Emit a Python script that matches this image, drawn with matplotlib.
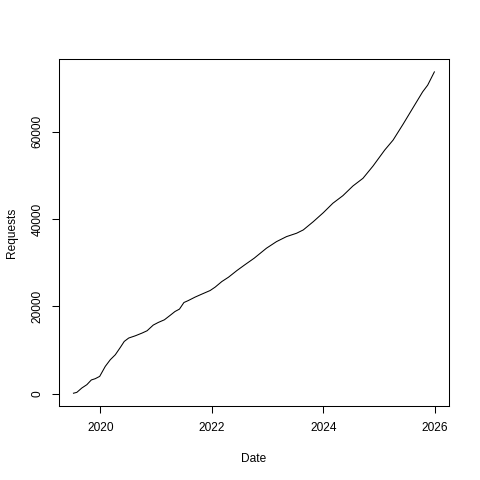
import matplotlib
matplotlib.use("Agg")
import matplotlib.pyplot as plt

# approximate values
dates = [2019.52, 2019.58, 2019.67, 2019.76, 2019.84, 2019.91, 2019.99, 2020.09,
         2020.18, 2020.27, 2020.36, 2020.43, 2020.51, 2020.63, 2020.75, 2020.84,
         2020.95, 2021.04, 2021.15, 2021.25, 2021.34, 2021.42, 2021.50, 2021.58,
         2021.70, 2021.82, 2021.97, 2022.06, 2022.18, 2022.30, 2022.45, 2022.59,
         2022.76, 2022.98, 2023.16, 2023.34, 2023.52, 2023.64, 2023.82, 2024.00,
         2024.17, 2024.35, 2024.53, 2024.71, 2024.89, 2025.10, 2025.25, 2025.43,
         2025.60, 2025.78, 2025.87, 2025.99]
requests = [100, 300, 1300, 2060, 3140, 3430, 3960, 6250,
            7780, 8920, 10600, 11970, 12750, 13270, 13890, 14420,
            15720, 16320, 16930, 17920, 18830, 19380, 20890, 21350,
            22130, 22810, 23640, 24420, 25700, 26700, 28220, 29520,
            31050, 33340, 34850, 36000, 36770, 37530, 39430, 41490,
            43640, 45380, 47600, 49360, 52170, 55840, 58120, 61780,
            65380, 69180, 70710, 73750]

x_ticks = [2020, 2022, 2024, 2026]
y_ticks = [0, 20000, 40000, 60000]

plt.rcParams['font.family'] = ['Liberation Sans', 'DejaVu Sans']

fig = plt.figure(figsize=(4.8, 4.8), dpi=100)
ax = fig.add_axes([0.123, 0.154, 0.812, 0.723])

ax.plot(dates, requests, color='black', linewidth=0.75)

# R-style 4% padding
xr = max(dates) - min(dates)
yr = max(requests) - min(requests)
ax.set_xlim(min(dates) - 0.04 * xr, max(dates) + 0.04 * xr)
ax.set_ylim(min(requests) - 0.04 * yr, max(requests) + 0.04 * yr)

ax.set_xticks(x_ticks)
ax.set_xticklabels([str(t) for t in x_ticks])
ax.set_yticks(y_ticks)
ax.set_yticklabels([str(t) for t in y_ticks], rotation=90, va='center')

ax.tick_params(direction='out', length=5.2, width=0.75, labelsize=8.6, pad=6)
for s in ax.spines.values():
    s.set_linewidth(0.75)
    s.set_color('black')

ax.set_xlabel('Date', fontsize=8.6, labelpad=14)
ax.set_ylabel('Requests', fontsize=8.6, labelpad=10)

fig.savefig('out.png', dpi=100, facecolor='white')
